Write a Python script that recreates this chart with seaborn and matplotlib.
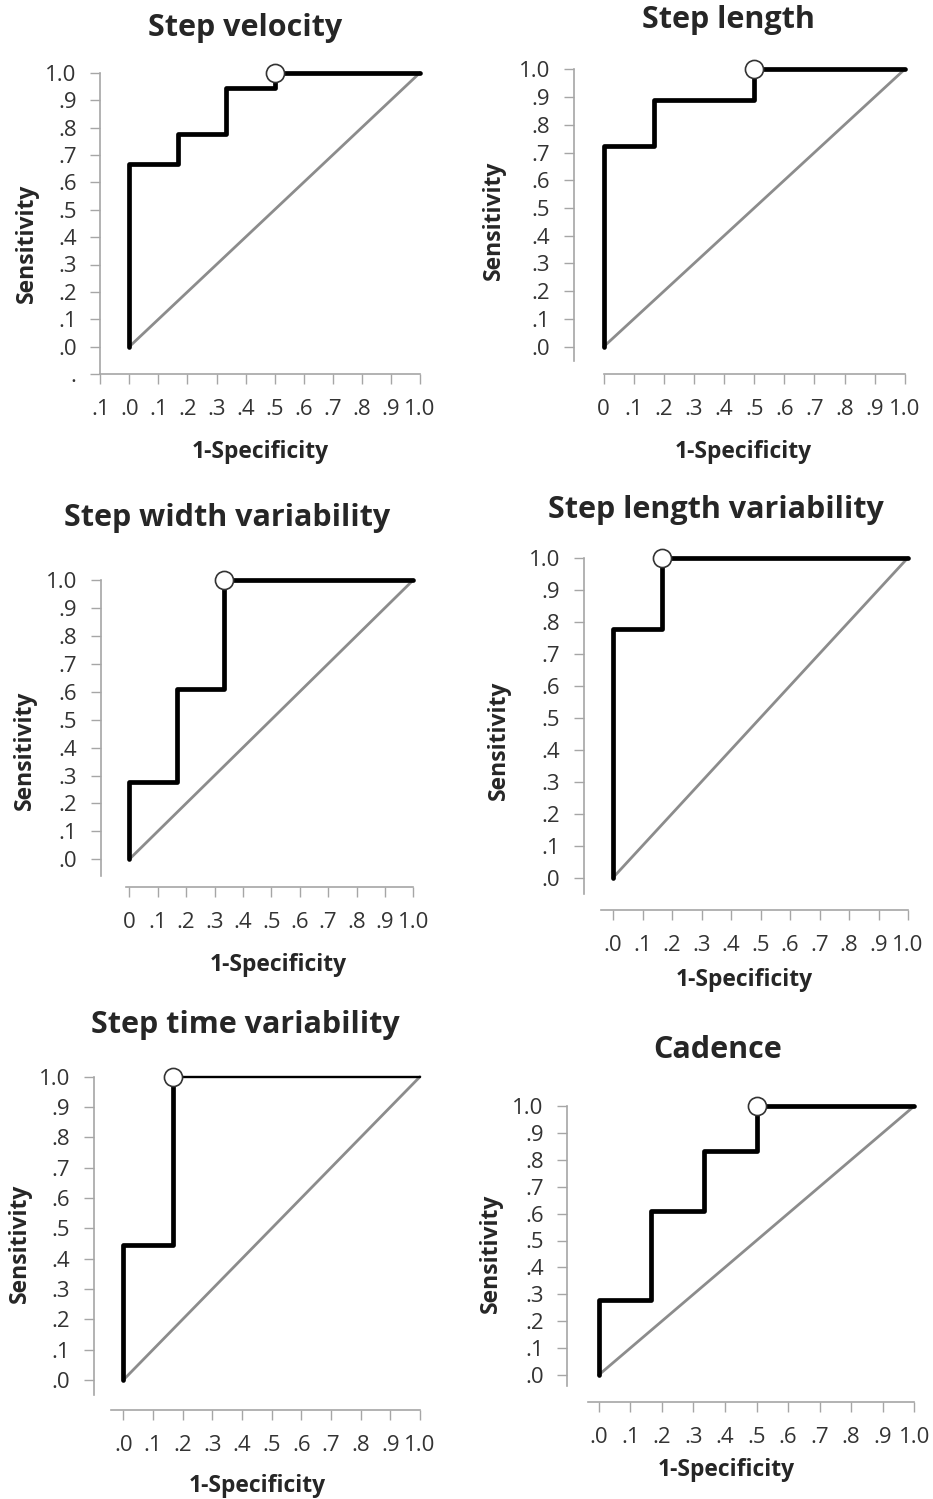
import matplotlib
matplotlib.use('Agg')
import numpy as np
import pandas as pd
import matplotlib.pyplot as plt
import seaborn as sns

# panel titles
titles = ['Step velocity', 'Step length', 'Step width variability',
          'Step length variability', 'Step time variability', 'Cadence']

# ROC curves: 1-specificity (x) and sensitivity (y)
x_velocity = [0.0, 0.0, 0.167, 0.167, 0.333, 0.333, 0.5, 0.5, 1.0]
y_velocity = [0.0, 0.667, 0.667, 0.778, 0.778, 0.944, 0.944, 1.0, 1.0]

x_length = [0.0, 0.0, 0.167, 0.167, 0.5, 0.5, 1.0]
y_length = [0.0, 0.722, 0.722, 0.889, 0.889, 1.0, 1.0]

x_width_var = [0.0, 0.0, 0.167, 0.167, 0.333, 0.333, 1.0]
y_width_var = [0.0, 0.278, 0.278, 0.611, 0.611, 1.0, 1.0]

x_length_var = [0.0, 0.0, 0.167, 0.167, 1.0]
y_length_var = [0.0, 0.778, 0.778, 1.0, 1.0]

x_time_var = [0.0, 0.0, 0.167, 0.167, 1.0]
y_time_var = [0.0, 0.444, 0.444, 1.0, 1.0]

x_cadence = [0.0, 0.0, 0.167, 0.167, 0.333, 0.333, 0.5, 0.5, 1.0]
y_cadence = [0.0, 0.278, 0.278, 0.611, 0.611, 0.833, 0.833, 1.0, 1.0]

# optimal cut-off points (open circles)
cut_x = [0.5, 0.5, 0.333, 0.167, 0.167, 0.5]
cut_y = [1.0, 1.0, 1.0, 1.0, 1.0, 1.0]

# reference diagonal
diag_x = [0.0, 1.0]
diag_y = [0.0, 1.0]

tick_vals = [-0.1, 0.0, 0.1, 0.2, 0.3, 0.4, 0.5, 0.6, 0.7, 0.8, 0.9, 1.0]
tick_text = ['.1', '.0', '.1', '.2', '.3', '.4', '.5', '.6', '.7', '.8', '.9', '1.0']

curves = [(x_velocity, y_velocity), (x_length, y_length), (x_width_var, y_width_var),
          (x_length_var, y_length_var), (x_time_var, y_time_var), (x_cadence, y_cadence)]

W, H = 933, 1499

# layout in pixels: x of 0, x of 1, y of 0, y of 1
pix = [(129.3, 420, 346.7, 72.7), (603.7, 904.7, 346.7, 69.3),
       (129.3, 413.3, 859.3, 580), (613, 908, 877.7, 557.7),
       (123.3, 420, 1380, 1076.7), (598.7, 914.3, 1375, 1106)]
title_pos = [(245, 28), (728, 20), (227, 518), (716, 510), (245, 1025), (718, 1050)]
xlab_pos = [(260, 452), (743, 452), (278, 965), (744, 980), (257, 1486), (726, 1470)]
ylab_pos = [(27, 243), (494, 220), (25, 750), (499, 740), (20, 1243), (491, 1253)]
left_lo = [-0.1, -0.05, -0.06, -0.05, -0.05, -0.04]
bottom_lo = [-0.1, 0.0, -0.01, -0.04, -0.04, -0.035]
first_xlab = ['.1', '0', '0', '.0', '.0', '.0']
tail_lw = [3.4, 3.4, 3.4, 3.4, 1.7, 3.4]

sns.set_style('white')
plt.rcParams['font.family'] = ['Open Sans', 'DejaVu Sans']

fig = plt.figure(figsize=(W / 100, H / 100), dpi=100)
gray = '#a6a6a6'

for i in range(6):
    x0, x1, y0, y1 = pix[i]
    ux, uy = x1 - x0, y0 - y1
    left = x0 - 0.1 * ux
    bottom = y0 + 0.1 * uy
    ax = fig.add_axes([left / W, 1 - bottom / H, (x1 - left) / W, (bottom - y1) / H])
    ax.set_xlim(-0.1, 1.0)
    ax.set_ylim(-0.1, 1.0)

    # diagonal
    sns.lineplot(x=diag_x, y=diag_y, ax=ax, color='#8c8c8c', lw=2.0, sort=False,
                 estimator=None, clip_on=False)

    xs, ys = curves[i]
    df = pd.DataFrame({'fpr': xs, 'tpr': ys})
    k = df.index[(df['fpr'] == cut_x[i]) & (df['tpr'] == cut_y[i])][0]
    head = df.iloc[:k + 1]
    tail = df.iloc[k:]
    sns.lineplot(data=head, x='fpr', y='tpr', ax=ax, color='black', lw=3.4,
                 sort=False, estimator=None, clip_on=False)
    sns.lineplot(data=tail, x='fpr', y='tpr', ax=ax, color='black', lw=tail_lw[i],
                 sort=False, estimator=None, clip_on=False)
    sns.scatterplot(x=[cut_x[i]], y=[cut_y[i]], ax=ax, s=170, color='white',
                    edgecolor='#333333', linewidth=1.2, zorder=5, clip_on=False)

    if i == 0:
        xt = tick_vals
        xl = tick_text
        yt = tick_vals
        yl = ['.'] + tick_text[1:]
    else:
        xt = tick_vals[1:]
        xl = [first_xlab[i]] + tick_text[2:]
        yt = tick_vals[1:]
        yl = tick_text[1:]
    ax.set_xticks(xt)
    ax.set_xticklabels(xl)
    ax.set_yticks(yt)
    ax.set_yticklabels(yl)
    ax.tick_params(axis='x', direction='out', length=7, width=1, color=gray,
                   pad=11, labelsize=16, labelcolor='#333333', bottom=True)
    ax.tick_params(axis='y', direction='out', length=7, width=1, color=gray,
                   pad=10, labelsize=16, labelcolor='#333333', left=True)
    sns.despine(ax=ax)
    for s in ['left', 'bottom']:
        ax.spines[s].set_color(gray)
        ax.spines[s].set_linewidth(1.2)
    ax.spines['left'].set_bounds(left_lo[i], 1.0)
    ax.spines['bottom'].set_bounds(bottom_lo[i], 1.0)
    ax.set_xlabel('')
    ax.set_ylabel('')

    fig.text(title_pos[i][0] / W, 1 - title_pos[i][1] / H, titles[i], ha='center',
             va='center', fontsize=22, fontweight='bold')
    fig.text(xlab_pos[i][0] / W, 1 - xlab_pos[i][1] / H, '1-Specificity', ha='center',
             va='center', fontsize=16.5, fontweight='bold')
    fig.text(ylab_pos[i][0] / W, 1 - ylab_pos[i][1] / H, 'Sensitivity', ha='center',
             va='center', fontsize=16.5, fontweight='bold', rotation=90)

fig.savefig('out.png', dpi=100)
